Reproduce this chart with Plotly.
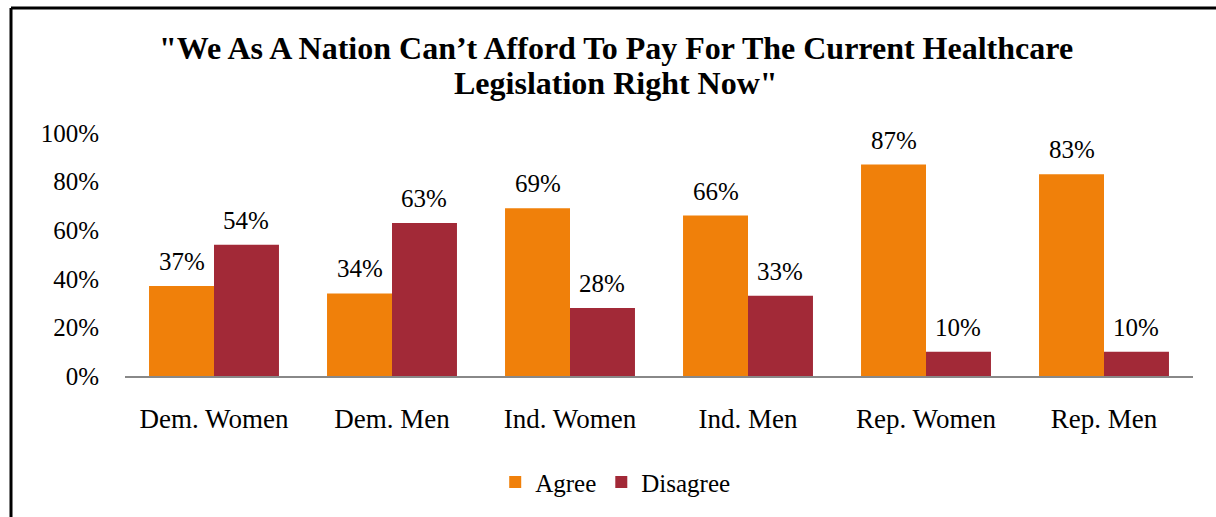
import plotly.graph_objects as go

categories = ["Dem. Women", "Dem. Men", "Ind. Women", "Ind. Men", "Rep. Women", "Rep. Men"]
agree = [37, 34, 69, 66, 87, 83]
disagree = [54, 63, 28, 33, 10, 10]
series_names = ["Agree", "Disagree"]
y_ticks = [0, 20, 40, 60, 80, 100]
y_tick_labels = ["0%", "20%", "40%", "60%", "80%", "100%"]
title_lines = ["\"We As A Nation Can’t Afford To Pay For The Current Healthcare",
               "Legislation Right Now\""]

colors = ["#F0800A", "#A22937"]
FONT = "Liberation Serif, Times New Roman, serif"

fig = go.Figure()
for name, vals, col in zip(series_names, [agree, disagree], colors):
    fig.add_trace(go.Bar(name=name, x=categories, y=vals, marker=dict(color=col, line=dict(width=0))))

# data labels
for vals, dx in [(agree, -32), (disagree, 32)]:
    for c, v in zip(categories, vals):
        fig.add_annotation(x=c, y=v, text=f"{v}%", xref="x", yref="y", xshift=dx, yshift=9,
                           yanchor="bottom", showarrow=False,
                           font=dict(family=FONT, size=25, color="#000000"))

# title (two lines)
for line, ypos in zip(title_lines, [1 + 86/245, 1 + 50/245]):
    fig.add_annotation(text=f"<b>{line}</b>", xref="paper", yref="paper", x=(616-125)/1068, y=ypos,
                       xanchor="center", yanchor="middle", showarrow=False,
                       font=dict(family=FONT, size=32, color="#000000"))

fig.update_layout(
    width=1216, height=517,
    paper_bgcolor="white", plot_bgcolor="white",
    barmode="group", bargap=0.27, bargroupgap=0,
    margin=dict(l=125, r=23, t=133, b=139),
    font=dict(family=FONT, size=24, color="#000000"),
    legend=dict(orientation="h", x=0.459, xanchor="center", xref="paper", y=-0.437, yanchor="middle",
                font=dict(family=FONT, size=25), itemwidth=30, traceorder="normal"),
    showlegend=True,
)
fig.update_yaxes(range=[0, 100], tickvals=y_ticks, ticktext=y_tick_labels, showgrid=False,
                 zeroline=False, showline=False, ticks="", ticklabelstandoff=25,
                 tickfont=dict(family=FONT, size=25))
fig.update_xaxes(showline=True, linecolor="#888888", linewidth=2, ticks="",
                 ticklabelstandoff=18, tickfont=dict(family=FONT, size=27))

# partial frame (left and top edges)
fig.add_shape(type="line", xref="paper", yref="paper", x0=-114/1068, x1=-114/1068, y0=-160/245, y1=1+126/245,
              line=dict(color="black", width=3))
fig.add_shape(type="line", xref="paper", yref="paper", x0=-114/1068, x1=1+40/1068, y0=1+126/245, y1=1+126/245,
              line=dict(color="black", width=3))

fig.write_html("out.html", config={"displayModeBar": False},
               post_script="document.body.style.margin='0';")
